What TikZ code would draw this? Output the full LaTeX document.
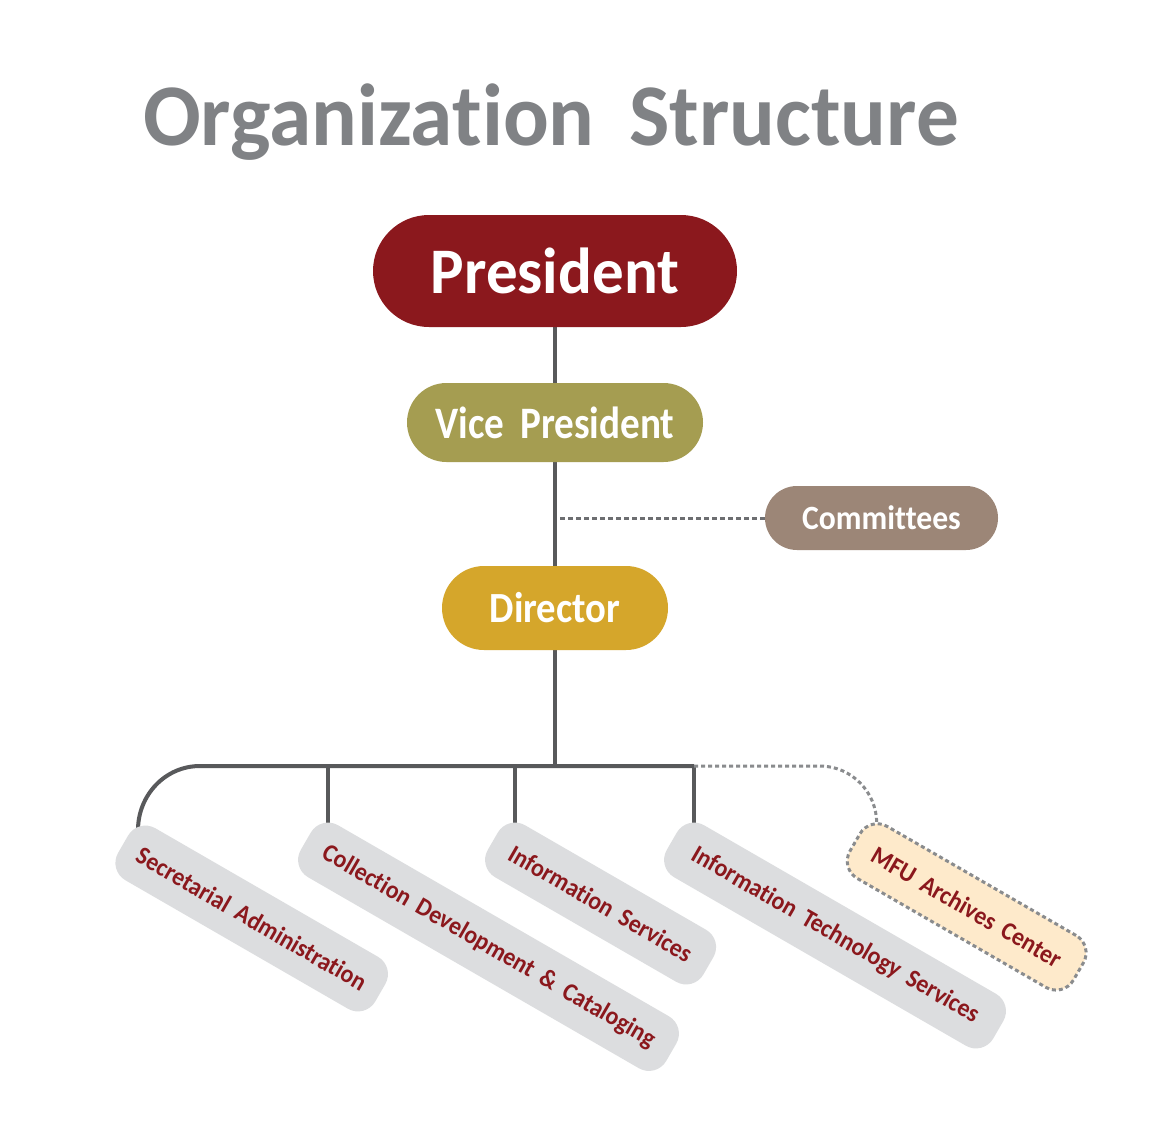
\documentclass[tikz,border=0pt]{standalone}
\usepackage{fontspec}
\usepackage{graphicx}
\setmainfont{Carlito}
\newfontfamily\hfont{Carlito}[FakeStretch=0.9, WordSpace=1.8, Ligatures=NoCommon]
\newfontfamily\tfont{Carlito}[FakeStretch=0.97, WordSpace=1.8, Ligatures=NoCommon]
\newfontfamily\pfont{Carlito}[FakeStretch=0.97, WordSpace=1.8, Ligatures=NoCommon]
\newfontfamily\vfont{Carlito}[FakeStretch=0.87, WordSpace=1.8, Ligatures=NoCommon]
\newfontfamily\cfont{Carlito}[FakeStretch=0.93, WordSpace=1.8, Ligatures=NoCommon]
\newfontfamily\lfont{Carlito}[FakeStretch=0.93, WordSpace=1.8, Ligatures=NoCommon]
\usetikzlibrary{calc}
\pgfdeclarelayer{bg}
\pgfsetlayers{bg,main}
\definecolor{cTitle}{HTML}{808285}
\definecolor{cPres}{HTML}{8B181D}
\definecolor{cVP}{HTML}{A59D51}
\definecolor{cCom}{HTML}{9C8677}
\definecolor{cDir}{HTML}{D5A62B}
\definecolor{cBox}{HTML}{DCDDDF}
\definecolor{cMFU}{HTML}{FEEACB}
\definecolor{cTxt}{HTML}{8B181D}
\definecolor{cLine}{HTML}{58595B}
\definecolor{cDotA}{HTML}{6D6E71}
\definecolor{cDotB}{HTML}{8A8C8E}
\tikzset{
  titletext/.style={inner sep=0pt, text=cTitle, font=\tfont\bfseries\fontsize{88}{90}\selectfont},
  pill/.style={rectangle, inner sep=0pt, text=white},
  rbox/.style={rectangle, rotate=-30, anchor=north west, rounded corners=20pt,
    minimum height=60pt, inner sep=0pt, fill=cBox, text=cTxt,
    font=\lfont\bfseries\fontsize{25.5}{26}\selectfont},
  conn/.style={draw=cLine, line width=4pt},
  dotA/.style={draw=cDotA, line width=3pt, dash pattern=on 5pt off 3pt},
  dotB/.style={draw=cDotB, line width=3pt, dash pattern=on 4pt off 3pt},
}
\begin{document}
\begin{tikzpicture}[x=1pt,y=-1pt]
\useasboundingbox (0,0) rectangle (1174,1121);
\node[titletext, anchor=base] (title) at (551,145) {Organization Structure};

\node[pill, fill=cPres, minimum width=364pt, minimum height=112pt, rounded corners=56pt,
  font=\pfont\bfseries\fontsize{65}{65}\selectfont] (pres) at (555,271) {President};
\node[pill, fill=cVP, minimum width=296pt, minimum height=79pt, rounded corners=39.5pt,
  font=\vfont\bfseries\fontsize{45}{45}\selectfont] (vp) at (555,422.5) {Vice President};
\node[pill, fill=cCom, minimum width=233pt, minimum height=64pt, rounded corners=32pt,
  font=\cfont\bfseries\fontsize{34}{34}\selectfont] (com) at (881.5,518) {Committees};
\node[pill, fill=cDir, minimum width=226pt, minimum height=84pt, rounded corners=42pt,
  font=\hfont\bfseries\fontsize{43}{43}\selectfont] (dir) at (555,608) {Director};

\node[rbox, minimum width=297pt] (sec) at (138,818) {Secretarial Administration};
\node[rbox, minimum width=422pt] (col) at (320.7,815) {Collection Development \& Cataloging};
\node[rbox, minimum width=249pt] (is) at (507.7,815) {Information Services};
\node[rbox, minimum width=377pt] (it) at (686.7,815) {Information Technology Services};
\node[rbox, minimum width=258pt, fill=cMFU, dotB] (mfu) at (869.4,814.4) {MFU Archives Center};

\coordinate (bus) at (555,766);
\coordinate (secT) at ($(sec.north west)+(0,12)$);
\coordinate (colT) at ($(col.north west)+(7.3,12)$);
\coordinate (isT) at ($(is.north west)+(7.3,12)$);
\coordinate (itT) at ($(it.north west)+(7.3,12)$);
\coordinate (mfuT) at ($(mfu.north west)+(7.3,9)$);

\begin{pgfonlayer}{bg}
\fill[white] (0,0) rectangle (1174,1121);
\draw[conn] (pres) -- (vp);
\draw[conn] (vp) -- (dir);
\draw[conn] (dir) -- (bus);
\draw[dotA] ($(vp.south |- com.west)+(5,0)$) -- (com.west);
\draw[conn] (secT) to[out=90,in=180] ($(secT |- bus)+(62,0)$) -- (itT |- bus);
\draw[conn] (colT |- bus) -- (colT);
\draw[conn] (isT |- bus) -- (isT);
\draw[conn] (itT |- bus) -- (itT);
\draw[dotB] (itT |- bus) -- ($(mfuT |- bus)+(-57,0)$) to[out=0,in=90] (mfuT);
\end{pgfonlayer}
\end{tikzpicture}
\end{document}
